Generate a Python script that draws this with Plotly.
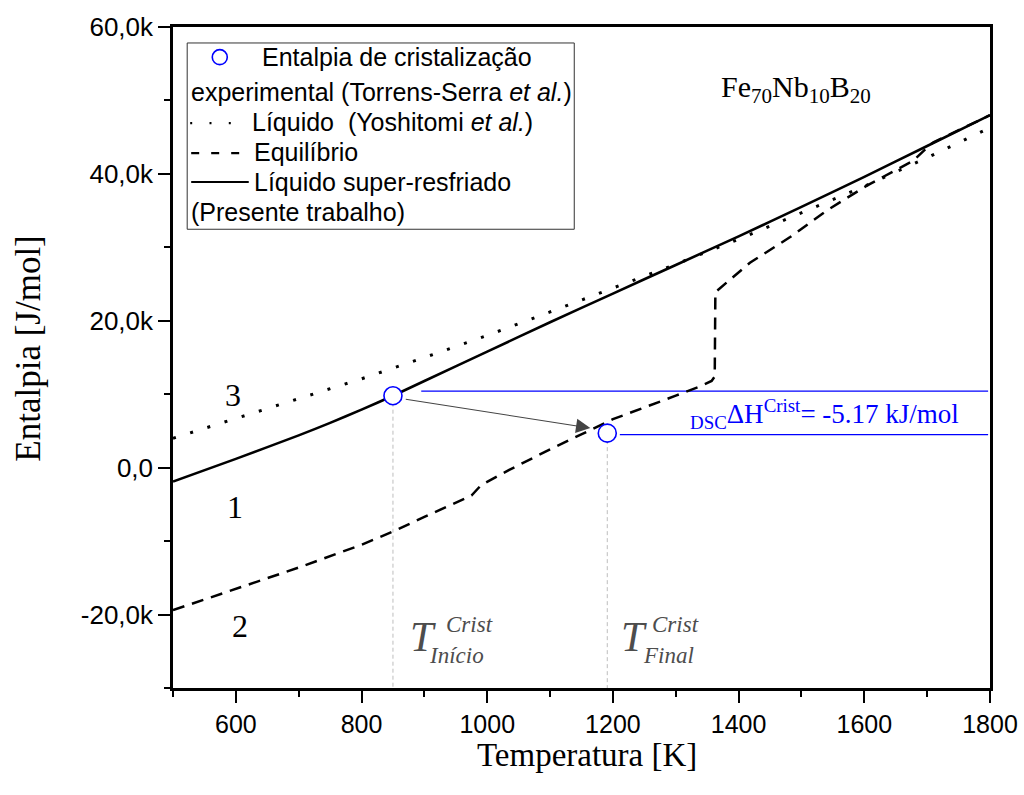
import plotly.graph_objects as go

# ---------------- data (T in K, H in J/mol) ----------------
T_solid = [500, 600, 700, 750, 800, 850, 900, 1000, 1100, 1200, 1300, 1400, 1500, 1600, 1700, 1800]
H_solid = [-1900, 1200, 4400, 6100, 7900, 9800, 11800, 15800, 19800, 23700, 27600, 31500, 35500, 39600, 43800, 48000]

T_dot = [500, 600, 700, 800, 900, 1000, 1100, 1200, 1300, 1400, 1500, 1600, 1700, 1800]
H_dot = [4000, 6700, 9400, 12100, 15000, 18000, 21200, 24400, 27700, 31100, 34700, 38300, 42200, 46300]

T_eq = [500, 600, 700, 800, 850, 900, 950, 975, 990, 1035, 1100, 1200, 1300, 1340, 1357, 1362, 1363,
        1370, 1418, 1482, 1540, 1604, 1678, 1704, 1710, 1800]
H_eq = [-19400, -16500, -13600, -10500, -8700, -6700, -4700, -3800, -2400, -300, 2500, 6600, 9800, 11100, 11800, 12400, 23900,
        24400, 27900, 31400, 35000, 38400, 41800, 43900, 44300, 48000]

T_cryst = [850, 1191]          # onset, final
H_cryst = [9800, 4700]

T_dh_lines = [[895, 1797], [1211, 1797]]
H_dh_lines = [10420, 4510]

Y_MIN, Y_MAX = -30000, 60000
X_MIN, X_MAX = 500, 1800

x_tickvals = [600, 800, 1000, 1200, 1400, 1600, 1800]
x_ticktext = ["600", "800", "1000", "1200", "1400", "1600", "1800"]
x_minor = [500, 700, 900, 1100, 1300, 1500, 1700]
y_tickvals = [-20000, 0, 20000, 40000, 60000]
y_ticktext = ["-20,0k", "0,0", "20,0k", "40,0k", "60,0k"]
y_minor = [-30000, -10000, 10000, 30000, 50000]

SERIF = "Liberation Serif, Times New Roman, serif"
SANS = "Liberation Sans, Arial, sans-serif"
BLUE = "#0000ff"

fig = go.Figure()

# gray vertical guide lines
for T, H in zip(T_cryst, H_cryst):
    fig.add_trace(go.Scatter(x=[T, T], y=[H, Y_MIN], mode="lines",
                             line=dict(color="#bdbdbd", width=1, dash="4px,3px"), hoverinfo="skip"))
# blue horizontal lines
for Ts, H in zip(T_dh_lines, H_dh_lines):
    fig.add_trace(go.Scatter(x=Ts, y=[H, H], mode="lines", line=dict(color=BLUE, width=1.2), hoverinfo="skip"))

fig.add_trace(go.Scatter(x=T_eq, y=H_eq, mode="lines", line=dict(color="black", width=2.5, dash="12px,8px")))
fig.add_trace(go.Scatter(x=T_dot, y=H_dot, mode="lines", line=dict(color="black", width=3, dash="3px,15px")))
fig.add_trace(go.Scatter(x=T_solid, y=H_solid, mode="lines",
                         line=dict(color="black", width=2.6, shape="spline", smoothing=0.8)))
fig.add_trace(go.Scatter(x=T_cryst, y=H_cryst, mode="markers",
                         marker=dict(symbol="circle", size=18, color="white", line=dict(color=BLUE, width=1.6))))

# ---------------- helpers for legend placement (paper coords from px) ----------------
L, R, TOP, BOT = 172.5, 990.0, 26.5, 688.3
def px(x):
    return (x - L) / (R - L)
def py(y):
    return (BOT - y) / (BOT - TOP)

shapes = []
annotations = []

# legend box
shapes.append(dict(type="rect", xref="paper", yref="paper", x0=px(186.7), x1=px(574), y0=py(229), y1=py(42.5),
                   line=dict(color="#333333", width=1), fillcolor="white", layer="above"))
shapes.append(dict(type="circle", xref="paper", yref="paper", x0=px(211.8), x1=px(226.8), y0=py(64.2), y1=py(49.2),
                   line=dict(color=BLUE, width=1.6), layer="above"))
shapes.append(dict(type="line", xref="paper", yref="paper", x0=px(189.7), x1=px(232), y0=py(122.7), y1=py(122.7),
                   line=dict(color="black", width=2.2, dash="2px,17.3px"), layer="above"))
shapes.append(dict(type="line", xref="paper", yref="paper", x0=px(190.7), x1=px(240), y0=py(152.7), y1=py(152.7),
                   line=dict(color="black", width=2.2, dash="8px,12px"), layer="above"))
shapes.append(dict(type="line", xref="paper", yref="paper", x0=px(190.7), x1=px(248.3), y0=py(181.7), y1=py(181.7),
                   line=dict(color="black", width=2.2), layer="above"))

leg_lines = [
    ("Entalpia de cristalização", 260.0, 56.7),
    ("experimental (Torrens-Serra <i>et al.</i>)", 189.0, 91.7),
    ("Líquido  (Yoshitomi <i>et al.</i>)", 250.0, 121.5),
    ("Equilíbrio", 251.5, 152.0),
    ("Líquido super-resfriado", 251.5, 182.0),
    ("(Presente trabalho)", 189.0, 212.0),
]
for txt, x, y in leg_lines:
    annotations.append(dict(text=txt, xref="paper", yref="paper", x=px(x), y=py(y), xanchor="left", yanchor="middle",
                            showarrow=False, font=dict(family=SANS, size=25, color="black")))

# arrow between experimental points
annotations.append(dict(x=1164, y=5400, ax=868, ay=9340, xref="x", yref="y", axref="x", ayref="y", text="",
                        showarrow=True, arrowhead=2, arrowsize=2.6, arrowwidth=1.1, arrowcolor="#444444"))

# labels
annotations.append(dict(text="<sub>DSC</sub>ΔH<sup>Crist</sup>= -5.17 kJ/mol", x=1320, y=7300, xref="x", yref="y",
                        xanchor="left", yanchor="middle", showarrow=False, font=dict(family=SERIF, size=27, color=BLUE)))
annotations.append(dict(text="Fe<sub>70</sub>Nb<sub>10</sub>B<sub>20</sub>", x=1491, y=51600, xref="x", yref="y",
                        xanchor="center", yanchor="middle", showarrow=False, font=dict(family=SERIF, size=30, color="black")))
for txt, x, y in [("3", 595, 9880), ("1", 598, -5320), ("2", 607, -21600)]:
    annotations.append(dict(text=txt, x=x, y=y, xref="x", yref="y", showarrow=False,
                            font=dict(family=SERIF, size=32, color="black")))
GRAY = "#4d4d4d"
for big, sup in [((897, -23000), (971, -21400)), ((1234, -23000), (1300, -21400))]:
    annotations.append(dict(text="<i>T</i>", x=big[0], y=big[1], xref="x", yref="y", showarrow=False,
                            font=dict(family=SERIF, size=42, color=GRAY)))
    annotations.append(dict(text="<i>Crist</i>", x=sup[0], y=sup[1], xref="x", yref="y", showarrow=False,
                            font=dict(family=SERIF, size=23, color=GRAY)))
annotations.append(dict(text="<i>Início</i>", x=951, y=-25600, xref="x", yref="y", showarrow=False,
                        font=dict(family=SERIF, size=23, color=GRAY)))
annotations.append(dict(text="<i>Final</i>", x=1288, y=-25600, xref="x", yref="y", showarrow=False,
                        font=dict(family=SERIF, size=23, color=GRAY)))

# axis titles
annotations.append(dict(text="Temperatura [K]", xref="paper", yref="paper", x=px(587), y=py(755),
                        xanchor="center", yanchor="middle", showarrow=False, borderpad=0,
                        font=dict(family=SERIF, size=33, color="black")))
annotations.append(dict(text="Entalpia [J/mol]", xref="paper", yref="paper", x=px(28), y=py(349), textangle=-90,
                        xanchor="center", yanchor="middle", showarrow=False, font=dict(family=SERIF, size=35, color="black")))

axis_common = dict(ticks="outside", ticklen=12, tickwidth=2, tickcolor="black", showline=True, linewidth=2.5,
                   linecolor="black", mirror=True, showgrid=False, zeroline=False, automargin=False)

fig.update_layout(
    width=1024, height=795,
    margin=dict(l=L, r=1024 - R, t=TOP, b=795 - BOT, autoexpand=False),
    paper_bgcolor="white", plot_bgcolor="white",
    showlegend=False,
    xaxis=dict(range=[X_MIN, X_MAX], tickmode="array", tickvals=x_tickvals, ticktext=x_ticktext,
               tickfont=dict(family=SANS, size=25, color="black"),
               minor=dict(tickvals=x_minor, ticks="outside", ticklen=6, tickwidth=2, tickcolor="black", showgrid=False),
               **axis_common),
    yaxis=dict(range=[Y_MIN, Y_MAX], tickmode="array", tickvals=y_tickvals, ticktext=y_ticktext,
               tickfont=dict(family=SANS, size=26, color="black"),
               minor=dict(tickvals=y_minor, ticks="outside", ticklen=6, tickwidth=2, tickcolor="black", showgrid=False),
               **axis_common),
    shapes=shapes,
    annotations=annotations,
)

fig.write_html("out.html")
